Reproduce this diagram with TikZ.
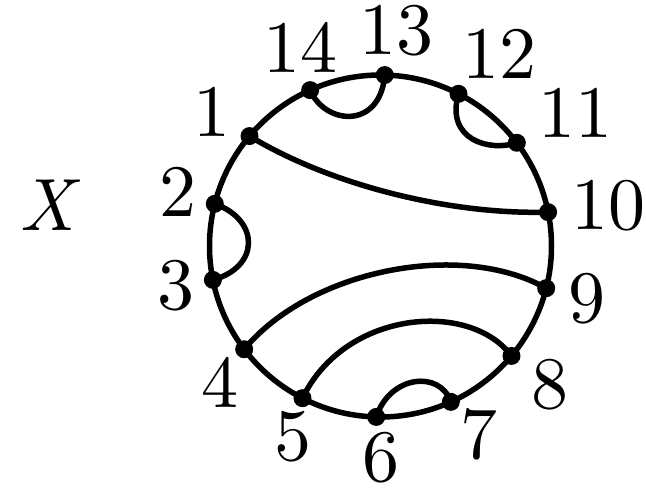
\documentclass[tikz,border=0pt]{standalone}
\usepackage{fontspec}
\setmainfont{lmroman10-regular.otf}[ItalicFont=lmroman10-italic.otf]
\usetikzlibrary{calc}
\begin{document}
\begin{tikzpicture}[x=1pt,y=1pt,
  curve/.style={line width=5.5pt},
  dot/.style={circle,fill=black,inner sep=0pt,minimum size=18pt},
  lab/.style={inner sep=0pt,font=\fontsize{74}{80}\selectfont}]
\useasboundingbox (0,0) rectangle (646,488);
\coordinate (c) at (380.5,242);
\foreach \k in {1,...,14}{
  \coordinate (q\k) at ($(c)+({140+(\k-1)*360/14}:171)$);
}
% chords
\draw[curve] (q1) .. controls (330,303) and (450,273) .. (q10);
\draw[curve] (q4) .. controls (310,218) and (460,248) .. (q9);
\draw[curve] (q5) .. controls (345,178) and (470,188) .. (q8);
\draw[curve] (q6) .. controls (390,113) and (440,118) .. (q7);
\draw[curve] (q2) .. controls (260,268) and (260,221) .. (q3);
\draw[curve] (q14) .. controls (325,363) and (380,358) .. (q13);
\draw[curve] (q12) .. controls (445,348) and (490,336) .. (q11);
% boundary circle
\node[draw,circle,line width=5.5pt,minimum size=342pt,inner sep=0pt] (bd) at (c) {};
% dots
\foreach \k in {1,...,14}{
  \node[dot] (p\k) at (q\k) {};
}
% labels
\node[lab] (l1) at (212,376) {1};
\node[lab] (l2) at (178,296) {2};
\node[lab] (l3) at (176,202) {3};
\node[lab] (l4) at (220,106) {4};
\node[lab] (l5) at (293,51) {5};
\node[lab] (l6) at (381,30) {6};
\node[lab] (l7) at (479,54) {7};
\node[lab] (l8) at (550,103) {8};
\node[lab] (l9) at (587,189) {9};
\node[lab] (l10) at (608,282) {10};
\node[lab] (l11) at (575,375) {11};
\node[lab] (l12) at (499,434) {12};
\node[lab] (l13) at (396,457) {13};
\node[lab] (l14) at (300,441) {14};
\node[lab] (lx) at (47,283) {\itshape X};
\end{tikzpicture}
\end{document}
